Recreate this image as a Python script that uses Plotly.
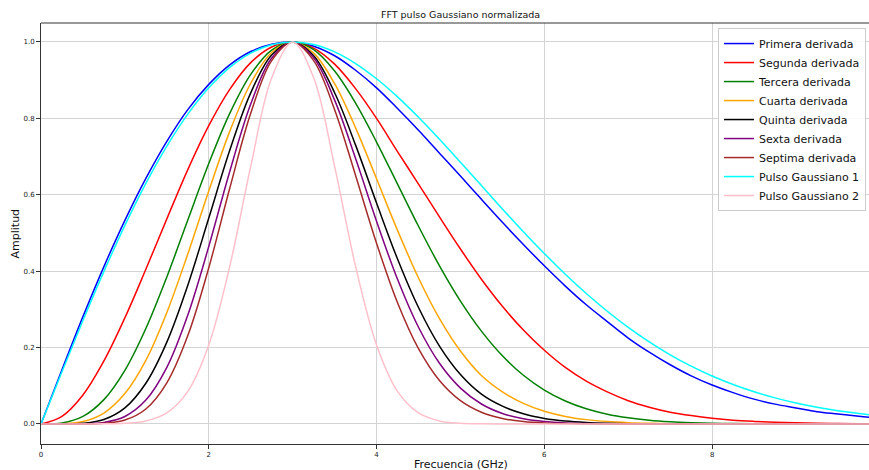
import plotly.graph_objects as go

freq_ghz = [0.0, 0.25, 0.5, 0.75, 1.0, 1.25, 1.5, 1.75, 2.0, 2.25, 2.5, 2.75, 3.0,
            3.25, 3.5, 3.75, 4.0, 4.25, 4.5, 4.75, 5.0, 5.25, 5.5, 5.75, 6.0,
            6.25, 6.5, 6.75, 7.0, 7.25, 7.5, 7.75, 8.0, 8.25, 8.5, 8.75, 9.0,
            9.25, 9.5, 9.75, 10.0]

primera = [0, 0.142, 0.281, 0.412, 0.533, 0.643, 0.740, 0.823, 0.889, 0.940, 0.975, 0.994, 1.0,
           0.989, 0.964, 0.926, 0.880, 0.826, 0.769, 0.709, 0.649, 0.588, 0.528, 0.470, 0.414,
           0.361, 0.312, 0.268, 0.225, 0.188, 0.155, 0.126, 0.102, 0.082, 0.065, 0.052, 0.042,
           0.032, 0.026, 0.020, 0.015]
segunda = [0, 0.020, 0.076, 0.165, 0.278, 0.405, 0.537, 0.666, 0.781, 0.876, 0.946, 0.987, 1.0,
           0.984, 0.942, 0.878, 0.800, 0.713, 0.628, 0.542, 0.458, 0.379, 0.308, 0.246, 0.193,
           0.148, 0.112, 0.084, 0.061, 0.044, 0.031, 0.022, 0.015, 0.010, 0.0068, 0.0044, 0.003,
           0.0019, 0.0012, 0.0007, 0.0005]
tercera = [0, 0.0026, 0.0199, 0.0638, 0.1405, 0.2499, 0.3850, 0.5340, 0.6818, 0.8131, 0.9152, 0.9788, 1.0,
           0.9799, 0.9239, 0.8400, 0.7381, 0.6279, 0.5176, 0.4140, 0.3217, 0.2430, 0.1785, 0.1276, 0.0889,
           0.0603, 0.0399, 0.0257, 0.0162, 0.0099, 0.0059, 0.0035, 0.0020, 0.0011, 0.0006, 0.0003, 0.0002,
           0.0001, 0, 0, 0]
cuarta = [0, 0.0004, 0.0064, 0.0286, 0.0796, 0.1665, 0.2919, 0.4452, 0.610, 0.766, 0.892, 0.9726, 1.0,
          0.9708, 0.8908, 0.7752, 0.6419, 0.5068, 0.3823, 0.2759, 0.191, 0.1267, 0.084, 0.0538, 0.0332,
          0.0198, 0.0114, 0.0063, 0.0034, 0.0018, 0.0009, 0.0004, 0.0002, 0, 0, 0, 0,
          0, 0, 0, 0]
quinta = [0, 0.00006, 0.0018, 0.0118, 0.0422, 0.1067, 0.2144, 0.3634, 0.539, 0.7163, 0.8668, 0.966, 1.0,
          0.9641, 0.867, 0.730, 0.5784, 0.4319, 0.3049, 0.2038, 0.1293, 0.078, 0.0466, 0.0267, 0.0146,
          0.0076, 0.0038, 0.0018, 0.0008, 0.0004, 0.0002, 0, 0, 0, 0, 0, 0,
          0, 0, 0, 0]
sexta = [0, 0.00001, 0.0004, 0.0041, 0.0197, 0.0625, 0.1482, 0.2852, 0.4649, 0.6611, 0.8376, 0.9581, 1.0,
         0.9585, 0.8478, 0.6951, 0.5307, 0.3788, 0.2532, 0.1589, 0.0939, 0.0523, 0.0275, 0.0136, 0.0064,
         0.0029, 0.0012, 0.0005, 0.0002, 0, 0, 0, 0, 0, 0, 0, 0,
         0, 0, 0, 0]
septima = [0, 0, 0.0001, 0.0016, 0.0103, 0.0393, 0.1078, 0.2314, 0.4091, 0.6171, 0.8132, 0.9513, 1.0,
           0.9512, 0.8228, 0.6506, 0.473, 0.3175, 0.1972, 0.1137, 0.061, 0.0306, 0.0143, 0.0062, 0.0025,
           0.001, 0.0004, 0.0001, 0, 0, 0, 0, 0, 0, 0, 0, 0,
           0, 0, 0, 0]
gauss1 = [0, 0.1369, 0.2710, 0.3995, 0.5199, 0.6299, 0.7275, 0.8113, 0.8801, 0.9334, 0.9709, 0.9929, 1.0,
          0.9933, 0.9740, 0.9435, 0.9037, 0.8563, 0.8029, 0.7453, 0.6852, 0.6240, 0.5630, 0.5035, 0.4463,
          0.3921, 0.3416, 0.2952, 0.2529, 0.2149, 0.1811, 0.1514, 0.1256, 0.1034, 0.0844, 0.0684, 0.0549,
          0.0438, 0.0347, 0.0273, 0.0212]
gauss2 = [0, 0, 0.00005, 0.0003, 0.0018, 0.0080, 0.0289, 0.0854, 0.207, 0.4124, 0.6745, 0.9063, 1.0,
          0.9063, 0.6745, 0.4124, 0.207, 0.0854, 0.0289, 0.0080, 0.0018, 0.0003, 0.00005, 0, 0,
          0, 0, 0, 0, 0, 0, 0, 0, 0, 0, 0, 0,
          0, 0, 0, 0]

series_names = ["Primera derivada", "Segunda derivada", "Tercera derivada", "Cuarta derivada",
                "Quinta derivada", "Sexta derivada", "Septima derivada",
                "Pulso Gaussiano 1", "Pulso Gaussiano 2"]
series_values = [primera, segunda, tercera, cuarta, quinta, sexta, septima, gauss1, gauss2]
series_colors = ["blue", "red", "green", "orange", "black", "purple", "brown", "cyan", "pink"]

x_ticks = [0, 2, 4, 6, 8]
y_ticks = [0.0, 0.2, 0.4, 0.6, 0.8, 1.0]

FONT = "DejaVu Sans"

fig = go.Figure()
for name, vals, col in zip(series_names, series_values, series_colors):
    fig.add_trace(go.Scatter(x=freq_ghz, y=vals, mode="lines", name=name,
                             line=dict(color=col, width=1.5, shape="spline", smoothing=1.0)))

axis_common = dict(showgrid=True, gridcolor="#d4d4d4", gridwidth=1, zeroline=False,
                   showline=True, linecolor="#333333", linewidth=1, automargin=False,
                   ticks="outside", ticklen=4, tickcolor="#333333", tickwidth=1,
                   tickfont=dict(family=FONT, size=7, color="#222222"))

fig.update_layout(
    width=869, height=470,
    margin=dict(l=41, r=0, t=23, b=26, autoexpand=False),
    paper_bgcolor="white", plot_bgcolor="white",
    font=dict(family=FONT, color="#111111"),
    xaxis=dict(range=[0, 9.87], tickvals=x_ticks, ticktext=[str(v) for v in x_ticks], **axis_common),
    yaxis=dict(range=[-0.0524, 1.0497], tickvals=y_ticks, ticktext=[f"{v:.1f}" for v in y_ticks], **axis_common),
    legend=dict(x=(718 - 41) / 828, y=0.988, xanchor="left", yanchor="top",
                bgcolor="rgba(255,255,255,0.85)", bordercolor="#cccccc", borderwidth=1,
                font=dict(family=FONT, size=11, color="#111111"), itemwidth=30,
                tracegroupgap=0),
    showlegend=True,
)

fig.add_shape(type="line", xref="paper", yref="paper", x0=0, x1=1, y0=1, y1=1,
              line=dict(color="#333333", width=1))

fig.add_annotation(text="FFT pulso Gaussiano normalizada", xref="paper", yref="paper",
                   x=(460 - 41) / 828, y=1 + (23 - 15) / 421, xanchor="center", yanchor="middle",
                   showarrow=False, font=dict(family=FONT, size=9.5, color="#111111"))
fig.add_annotation(text="Frecuencia (GHz)", xref="paper", yref="paper",
                   x=(461 - 41) / 828, y=-(464 - 444) / 421, xanchor="center", yanchor="middle",
                   showarrow=False, font=dict(family=FONT, size=11, color="#111111"))
fig.add_annotation(text="Amplitud", xref="paper", yref="paper",
                   x=-(41 - 15) / 828, y=0.5, xanchor="center", yanchor="middle", textangle=-90,
                   showarrow=False, font=dict(family=FONT, size=11, color="#111111"))

fig.write_html("out.html", config={"displayModeBar": False},
               post_script="document.body.style.margin='0';document.body.style.padding='0';")
